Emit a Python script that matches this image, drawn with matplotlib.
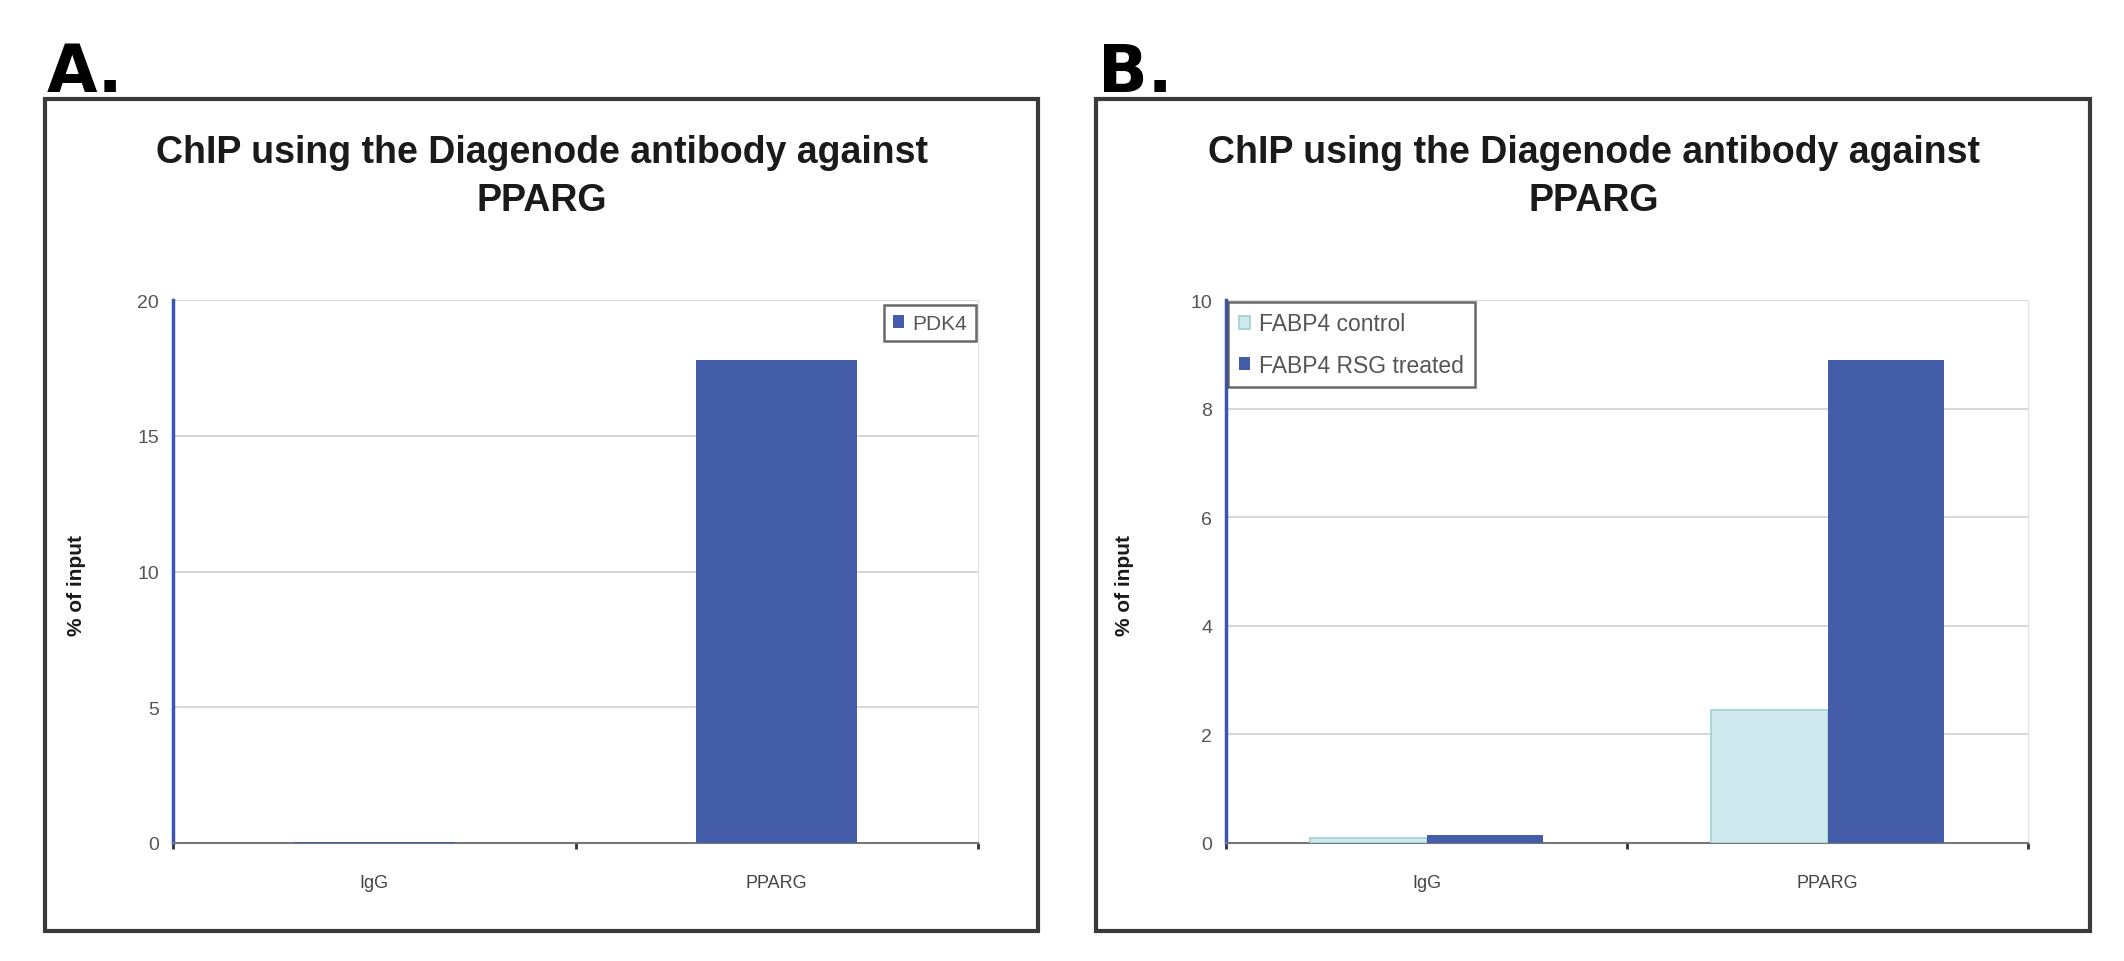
import matplotlib
matplotlib.use("Agg")
import matplotlib.pyplot as plt
from matplotlib.patches import Rectangle
import numpy as np

plt.rcParams['font.family'] = ['Liberation Sans', 'DejaVu Sans']

# ---- data ----
categories = ["IgG", "PPARG"]
a_series = "PDK4"
a_values = [0.05, 17.8]
a_yticks = [0, 5, 10, 15, 20]

b_series = ["FABP4 control", "FABP4 RSG treated"]
b_control = [0.10, 2.45]
b_treated = [0.15, 8.9]
b_yticks = [0, 2, 4, 6, 8, 10]

title = "ChIP using the Diagenode antibody against\nPPARG"
ylabel = "% of input"

DARK = "#435da8"
LIGHT = "#cfe9ef"
LIGHT_EDGE = "#9fd0cf"
AXBLUE = "#3a55b5"

W, H = 2124, 962
fig = plt.figure(figsize=(W / 100, H / 100), dpi=100)


def fx(px):
    return px / W


def fy(py):
    return 1 - py / H


def style_axes(ax, yticks):
    ax.set_xlim(-0.5, 1.5)
    ax.set_ylim(yticks[0], yticks[-1])
    ax.set_yticks(yticks)
    ax.set_xticks(range(len(categories)))
    ax.set_xticklabels(categories)
    ax.grid(axis='y', color='#d4d4d4', lw=1.3)
    ax.set_axisbelow(True)
    ax.spines['top'].set_visible(False)
    ax.spines['right'].set_color('#e4e4e4')
    ax.spines['right'].set_linewidth(1.0)
    ax.spines['left'].set_color(AXBLUE)
    ax.spines['left'].set_linewidth(2.5)
    ax.spines['bottom'].set_color('#777777')
    ax.spines['bottom'].set_linewidth(1.5)
    ax.tick_params(axis='y', length=0, labelsize=14, labelcolor='#555555', pad=10)
    ax.tick_params(axis='x', length=0, labelsize=13, labelcolor='#444444', pad=22)
    ax.set_xticks([-0.5, 0.5, 1.5], minor=True)
    ax.tick_params(axis='x', which='minor', length=4, width=2, color='#333333', direction='out')


# ---- panel A ----
axA = fig.add_axes([fx(173), fy(844), fx(978 - 173), (844 - 301) / H])
x = np.arange(len(categories))
axA.bar(x, a_values, width=0.4, color=DARK, label=a_series, zorder=3)
style_axes(axA, a_yticks)
legA = axA.legend(loc='upper right', bbox_to_anchor=(0.997, 0.99), borderaxespad=0,
                  fontsize=15, frameon=True, fancybox=False, edgecolor='#444444',
                  handlelength=0.55, handleheight=0.55, handletextpad=0.4,
                  borderpad=0.4, labelcolor='#555555')
legA.get_frame().set_linewidth(1.8)

# ---- panel B ----
axB = fig.add_axes([fx(1226), fy(844), fx(2028 - 1226), (844 - 301) / H])
bw = 0.29
axB.bar(x - bw / 2, b_control, width=bw, color=LIGHT, edgecolor=LIGHT_EDGE,
        lw=1.2, label=b_series[0], zorder=3)
axB.bar(x + bw / 2, b_treated, width=bw, color=DARK, label=b_series[1], zorder=3)
style_axes(axB, b_yticks)
legB = axB.legend(loc='upper left', bbox_to_anchor=(0.003, 0.996), borderaxespad=0,
                  fontsize=16.5, frameon=True, fancybox=False, edgecolor='#444444',
                  handlelength=0.5, handleheight=0.5, handletextpad=0.4,
                  borderpad=0.45, labelspacing=0.8, labelcolor='#555555')
legB.get_frame().set_linewidth(1.8)

# ---- frames, titles, panel letters ----
for (x0, x1, letter, tx, lx) in [(45, 1038, "A.", 542, 77), (1096, 2090, "B.", 1594, 1124)]:
    fig.patches.append(Rectangle((fx(x0), fy(932)), fx(x1 - x0), (932 - 100) / H,
                                 transform=fig.transFigure, fill=False,
                                 edgecolor='#3a3a3a', lw=3))
    fig.text(fx(x0 + 2), fy(92), letter, fontsize=47, fontweight='bold',
             ha='left', va='baseline', family=['DejaVu Sans'])
    fig.text(fx(tx), fy(177), title, fontsize=27, fontweight='bold',
             ha='center', va='center', linespacing=1.45, color='#1a1a1a')
    fig.text(fx(lx), fy(585), ylabel, fontsize=15, fontweight='bold',
             rotation=90, ha='center', va='center', color='#1a1a1a')

fig.savefig("out.png", dpi=100)
